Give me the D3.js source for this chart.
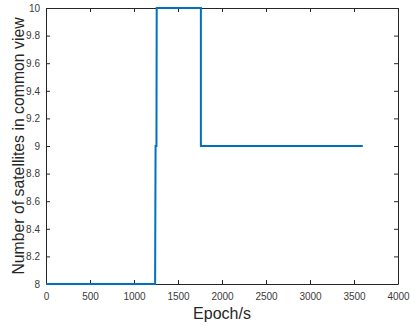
<!DOCTYPE html>
<html>
<head>
<meta charset="utf-8">
<script src="https://cdn.jsdelivr.net/npm/d3@7"></script>
<style>
  body { margin: 0; background: #fff; }
  svg { display: block; font-family: "Liberation Sans", Arial, sans-serif; }
</style>
</head>
<body>
<svg width="410" height="326"></svg>
<script>
// step series
var epochs = [0, 1240, 1245, 1255, 1258, 1760, 1760, 3600];
var satCount = [8, 8, 9, 9, 10, 10, 9, 9];
var xTicks = [0, 500, 1000, 1500, 2000, 2500, 3000, 3500, 4000];
var yTicks = [8, 8.2, 8.4, 8.6, 8.8, 9, 9.2, 9.4, 9.6, 9.8, 10];

var svg = d3.select("svg"),
    margin = { top: 8, right: 12, bottom: 42, left: 46 },
    width = +svg.attr("width"),
    height = +svg.attr("height");

var x = d3.scaleLinear().domain([0, 4000]).range([margin.left, width - margin.right]);
var y = d3.scaleLinear().domain([8, 10]).range([height - margin.bottom, margin.top]);

var axisColor = "#262626";

function styleAxis(g) {
    g.select(".domain").attr("stroke", axisColor).attr("stroke-width", 1);
    g.selectAll(".tick line").attr("stroke", axisColor);
    g.selectAll(".tick text").attr("fill", "#3a3a3a").attr("font-size", "10px");
}

// bottom / left with labels, ticks pointing inward
svg.append("g")
    .attr("transform", "translate(0," + y(8) + ")")
    .call(d3.axisBottom(x).tickValues(xTicks).tickSizeInner(-4).tickSizeOuter(0).tickPadding(9)
        .tickFormat(d3.format("d")))
    .call(styleAxis);

svg.append("g")
    .attr("transform", "translate(" + x(0) + ",0)")
    .call(d3.axisLeft(y).tickValues(yTicks).tickSizeInner(-4).tickSizeOuter(0).tickPadding(6)
        .tickFormat(function (d) { return d3.format("~g")(d); }))
    .call(styleAxis);

// top / right box with ticks, no labels
svg.append("g")
    .attr("transform", "translate(0," + y(10) + ")")
    .call(d3.axisTop(x).tickValues(xTicks).tickSizeInner(-4).tickSizeOuter(0).tickFormat(""))
    .call(styleAxis);

svg.append("g")
    .attr("transform", "translate(" + x(4000) + ",0)")
    .call(d3.axisRight(y).tickValues(yTicks).tickSizeInner(-4).tickSizeOuter(0).tickFormat(""))
    .call(styleAxis);

// series
svg.append("path")
    .datum(d3.zip(epochs, satCount))
    .attr("fill", "none")
    .attr("stroke", "#0072BD")
    .attr("stroke-width", 2)
    .attr("stroke-linejoin", "miter")
    .attr("d", d3.line()
        .x(function (d) { return x(d[0]); })
        .y(function (d) { return y(d[1]); }));

// axis labels
svg.append("text")
    .attr("x", (x(0) + x(4000)) / 2)
    .attr("y", 319)
    .attr("text-anchor", "middle")
    .attr("fill", axisColor)
    .attr("font-size", "16px")
    .text("Epoch/s");

svg.append("text")
    .attr("transform", "translate(24," + ((y(8) + y(10)) / 2) + ") rotate(-90)")
    .attr("text-anchor", "middle")
    .attr("fill", axisColor)
    .attr("font-size", "15.8px")
    .text("Number of satellites in common view");
</script>
</body>
</html>
